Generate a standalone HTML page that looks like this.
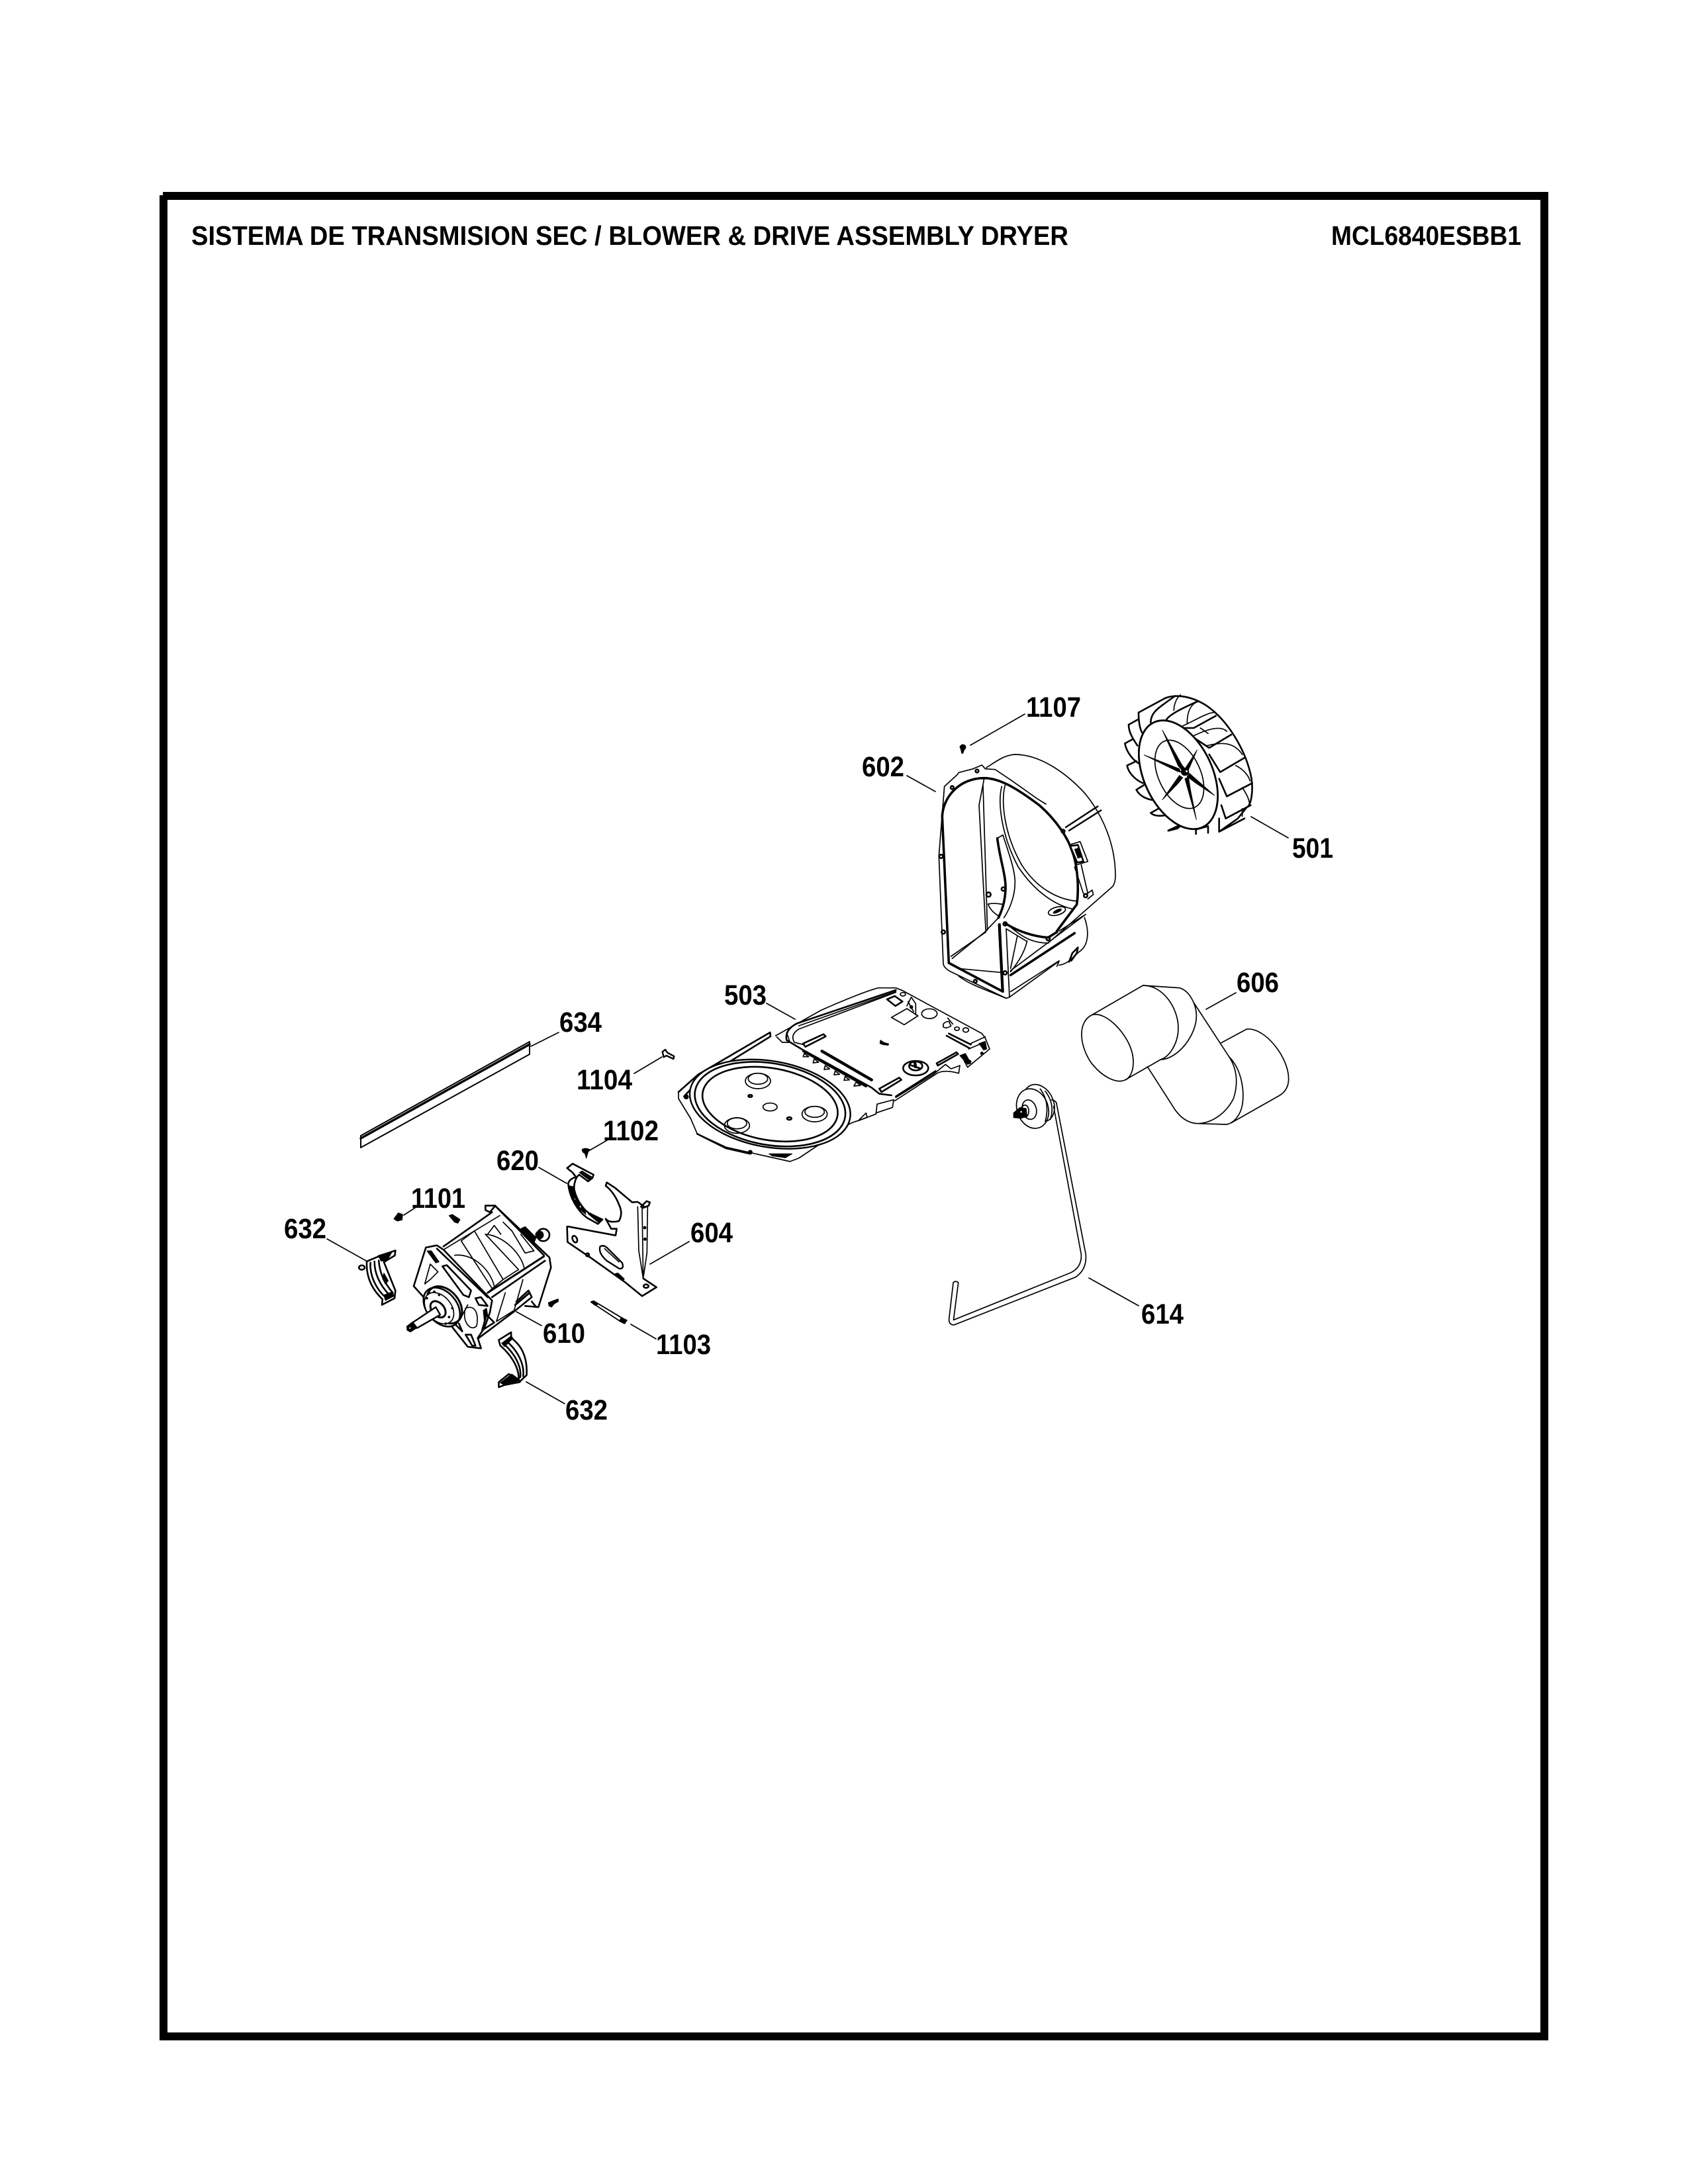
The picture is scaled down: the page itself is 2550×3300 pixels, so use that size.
<!DOCTYPE html>
<html><head><meta charset="utf-8"><style>
html,body{margin:0;padding:0;background:#fff}
svg{display:block}
svg *{vector-effect:non-scaling-stroke}
g.d path,g.d ellipse,g.d circle,g.d polygon,g.d line,g.d polyline{fill:none;stroke:#000;stroke-width:1.7;stroke-linejoin:round;stroke-linecap:round}
g.d .w{fill:#fff}
g.d .k{stroke-width:3.6}
g.d .m{stroke-width:2.6}
g.d .f{fill:#000;stroke-width:1}
text{font-family:"Liberation Sans",Arial,sans-serif;font-weight:bold;font-size:43px;fill:#000}
text.t{font-size:41px}
</style></head><body>
<svg width="2550" height="3300" viewBox="0 0 2550 3300" xmlns="http://www.w3.org/2000/svg">
<rect width="2550" height="3300" fill="#fff"/>
<!-- frame -->
<rect x="246" y="290" width="2093" height="12" fill="#000"/>
<rect x="241" y="295" width="12" height="2788" fill="#000"/>
<rect x="2327" y="290" width="12" height="2793" fill="#000"/>
<rect x="241" y="3071" width="2098" height="12" fill="#000"/>
<text class="t" x="289" y="370" textLength="1325" lengthAdjust="spacingAndGlyphs">SISTEMA DE TRANSMISION SEC / BLOWER &amp; DRIVE ASSEMBLY DRYER</text>
<text class="t" x="2011" y="370" textLength="287" lengthAdjust="spacingAndGlyphs">MCL6840ESBB1</text>

<!-- labels -->
<text x="1550" y="1083" textLength="83" lengthAdjust="spacingAndGlyphs">1107</text>
<text x="1302" y="1173" textLength="64" lengthAdjust="spacingAndGlyphs">602</text>
<text x="1952" y="1296" textLength="62" lengthAdjust="spacingAndGlyphs">501</text>
<text x="1868" y="1499" textLength="64" lengthAdjust="spacingAndGlyphs">606</text>
<text x="1094" y="1518" textLength="64" lengthAdjust="spacingAndGlyphs">503</text>
<text x="845" y="1559" textLength="64" lengthAdjust="spacingAndGlyphs">634</text>
<text x="871" y="1646" textLength="84" lengthAdjust="spacingAndGlyphs">1104</text>
<text x="911" y="1723" textLength="84" lengthAdjust="spacingAndGlyphs">1102</text>
<text x="750" y="1768" textLength="64" lengthAdjust="spacingAndGlyphs">620</text>
<text x="621" y="1825" textLength="82" lengthAdjust="spacingAndGlyphs">1101</text>
<text x="429" y="1871" textLength="64" lengthAdjust="spacingAndGlyphs">632</text>
<text x="1043" y="1877" textLength="64" lengthAdjust="spacingAndGlyphs">604</text>
<text x="820" y="2029" textLength="64" lengthAdjust="spacingAndGlyphs">610</text>
<text x="991" y="2046" textLength="83" lengthAdjust="spacingAndGlyphs">1103</text>
<text x="1724" y="2000" textLength="64" lengthAdjust="spacingAndGlyphs">614</text>
<text x="854" y="2145" textLength="64" lengthAdjust="spacingAndGlyphs">632</text>

<!-- leader lines -->
<g class="d">
<line x1="1466" y1="1126" x2="1548" y2="1079"/>
<line x1="1370" y1="1172" x2="1413" y2="1196"/>
<line x1="1890" y1="1234" x2="1946" y2="1266"/>
<line x1="1822" y1="1525" x2="1867" y2="1500"/>
<line x1="1158" y1="1516" x2="1201" y2="1540"/>
<line x1="802" y1="1581" x2="844" y2="1560"/>
<line x1="958" y1="1622" x2="1000" y2="1597"/>
<line x1="891" y1="1738" x2="917" y2="1723"/>
<line x1="814" y1="1764" x2="856" y2="1788"/>
<line x1="610" y1="1836" x2="627" y2="1825"/>
<line x1="494" y1="1872" x2="553" y2="1905"/>
<line x1="780" y1="1982" x2="818" y2="2003"/>
<line x1="953" y1="2001" x2="991" y2="2023"/>
<line x1="795" y1="2088" x2="853" y2="2121"/>
<line x1="982" y1="1910" x2="1041" y2="1876"/>
<line x1="1645" y1="1931" x2="1720" y2="1973"/>
</g>

<!-- blower housing 602 -->
<g class="d" transform="translate(1370 1110) scale(.33333)">
<path class="f" d="M240 55 Q250 38 265 50 Q270 62 260 68 L254 85 L248 84 L245 68 Z"/>
<path d="M360 150 C400 125 440 92 490 90 C600 90 720 170 810 270 C890 370 945 500 945 640 Q945 680 925 695 L640 945"/>
<path d="M170 235 L228 182 L235 172 L300 155 L340 138 L355 155 L400 158 L470 205 L590 290 L630 315"/>
<path d="M170 235 L145 550 L165 1040 Q170 1060 200 1075 L450 1195 L465 1190 L690 1027 L680 1050"/>
<path d="M235 1095 C280 1130 340 1150 450 1195"/>
<path class="k" d="M190 1035 L160 370 C165 280 240 197 350 197 C430 197 520 260 600 320 C680 390 730 470 750 530 C775 600 780 700 770 770 L680 890"/>
<path class="k" d="M190 1035 L435 1165 L420 860"/>
<path class="k" d="M445 855 C500 890 570 915 640 920 L680 895"/>
<path d="M350 200 L327 320 L358 895 L200 1005"/>
<path d="M345 230 L365 885 L205 1015"/>
<path d="M445 230 C425 300 440 450 520 590 C590 700 690 750 775 755"/>
<path d="M430 235 C410 310 430 460 505 600 C585 720 680 775 750 790"/>
<path d="M410 470 L435 455 C470 560 490 620 490 670 C490 740 460 800 440 830"/>
<path class="k" d="M410 470 C420 560 450 640 447 700 C445 760 430 800 415 830"/>
<path d="M368 768 C400 760 430 770 440 770 M368 768 C375 790 395 810 420 825 M415 830 L358 890"/>
<path d="M415 860 L430 1160 M450 880 L465 1190 M450 880 L540 935 M545 935 C530 1000 490 1050 470 1075 M500 915 L470 1060"/>
<path d="M230 1060 L425 1078"/>
<path d="M445 850 C520 920 570 945 640 945"/>
<path class="k" d="M470 1090 L760 900"/>
<path d="M470 1070 L810 815 M690 890 L810 815"/>
<path d="M805 830 C830 900 820 960 780 985 C750 1010 730 1040 690 1045"/>
<path class="m" d="M775 965 L750 990 L735 1030 M775 965 L770 990 L745 1025"/>
<path d="M470 1165 L690 1025"/>
<path class="k" d="M720 420 L865 325" style="stroke-width:2.4"/>
<path class="k" d="M735 435 L880 343" style="stroke-width:2.4"/>
<path class="w" d="M735 500 L785 485 L820 575 L770 590 Z"/>
<path class="k" d="M740 505 L775 500 L800 575 L772 580 Z" style="stroke-width:2.6"/>
<path class="f" d="M760 520 L775 515 L790 555 L775 560Z"/>
<path d="M790 590 L820 720 M760 600 L800 720"/>
<path d="M810 725 L840 705 L845 725 L820 745"/>
<ellipse cx="680" cy="800" rx="40" ry="18" transform="rotate(-15 680 800)"/>
<ellipse class="f" cx="682" cy="800" rx="20" ry="6" transform="rotate(-25 682 800)"/>
<circle class="m" cx="318" cy="165" r="7"/><circle class="m" cx="205" cy="240" r="7"/><circle class="m" cx="155" cy="552" r="8"/><circle class="m" cx="165" cy="895" r="8"/><circle class="m" cx="370" cy="725" r="10"/><circle class="m" cx="437" cy="700" r="8"/><circle class="m" cx="445" cy="858" r="8"/><circle class="m" cx="640" cy="925" r="8"/><circle class="m" cx="445" cy="1080" r="8"/><circle class="m" cx="310" cy="1118" r="7"/><circle class="m" cx="810" cy="730" r="8"/><circle class="m" cx="708" cy="438" r="7"/>
</g>

<!-- fan 501 -->
<g class="d" transform="translate(1650 1020) scale(.33333)">
<path class="m" d="M330 105 C380 85 450 95 520 140 C620 210 700 350 722 470 C730 530 720 590 700 600 L660 650 L575 710"/>
<path class="m" d="M210 170 L330 105 M210 170 C210 210 215 240 225 260 M165 225 L210 200 M165 225 C165 260 185 290 205 320 M148 310 L185 290 M148 310 C155 350 185 385 210 400 M158 410 L200 390 M158 410 C165 450 205 480 230 490 M200 520 L240 495 M200 520 C215 550 250 565 285 568 M265 625 L310 600 M265 625 C280 640 310 640 335 635"/>
<path class="k" d="M345 705 L410 675 L385 695 Z" style="stroke-width:3"/>
<path class="m" d="M470 720 L470 700 L525 685 L525 715 M410 240 L460 240 L560 185 M470 290 L530 330 L630 270 M530 360 L580 440 L690 375 M575 470 L610 550 L725 490 M585 590 L605 650 L718 590 M575 650 L575 710 L690 650"/>
<path class="m" d="M265 215 C265 170 300 150 340 120 L375 95 M335 205 C345 180 410 150 480 118"/>
<path d="M430 220 C430 160 450 130 480 120 M370 160 C370 130 385 100 400 90 M400 235 C450 215 520 170 550 170 M450 280 C510 250 580 225 610 255 M490 240 L525 265 M520 320 C580 305 640 300 680 360 M650 410 C690 430 710 460 715 480 M680 510 C700 540 715 570 712 590 M680 605 L680 640"/>
<ellipse class="k w" cx="390" cy="452" rx="262" ry="155" transform="rotate(65 390 452)" style="stroke-width:2.8"/>
<ellipse cx="395" cy="450" rx="165" ry="95" transform="rotate(65 395 450)"/>
<polygon class="f" points="318,250 405,405 420,425 408,432 390,412"/>
<polygon class="f" points="475,340 436,430 422,422 440,395"/>
<polygon class="f" points="235,362 395,425 400,440 385,436"/>
<polygon class="f" points="318,565 395,455 410,465 390,490"/>
<polygon class="f" points="553,545 440,445 430,460 470,490"/>
<polygon class="f" points="472,655 420,470 436,462 445,520"/>
<circle class="f" cx="420" cy="438" r="17"/>
<circle cx="428" cy="436" r="7" style="fill:#fff"/>
</g>

<!-- blower duct 606 -->
<g class="d" transform="translate(1590 1400) scale(.33333)">
<path d="M765 527 L880 465 C960 455 1070 590 1070 690 Q1070 740 1030 765 L810 890"/>
<path d="M640 345 L800 590 C840 650 840 720 820 780 C790 840 730 890 660 893 C630 893 590 880 555 830 L430 635"/>
<path d="M800 590 C860 650 870 750 860 810 C850 860 820 890 790 897 L660 893"/>
<path d="M180 400 L410 267 C500 265 570 370 570 460 C570 530 530 590 490 603 L330 695"/>
<path d="M410 267 L575 278 C620 290 650 350 652 400 C655 490 570 600 490 603"/>
<path d="M180 400 C240 385 320 470 350 540 C380 610 365 680 330 695 C290 715 220 680 170 610 C120 530 115 430 180 400 Z"/>
</g>

<!-- base plate 503 -->
<g class="d" transform="translate(1000 1460) scale(.33333)">
<path class="w" d="M2 388 L15 378 L25 392 L55 408 L52 420 L20 405 L8 412 Z" style="stroke-width:2.4"/>
<path class="m" d="M75 570 L165 490 L490 300 L492 318 L165 520 L100 590"/>
<path d="M75 570 L75 600 L130 690 L160 760 L290 820 L580 885 L620 870 L830 730 Q850 710 890 700 L970 670 L975 625 L1050 605 L1045 640 L970 665"/>
<path class="m" d="M160 760 L290 825 L400 850"/>
<path d="M890 700 L925 665 L930 685 L890 700"/>
<path d="M1055 610 L1240 490 Q1270 465 1345 485 L1350 450 L1310 465 L1285 445 L1230 490 L1060 595"/>
<path class="m" d="M1060 590 L1240 475"/>
<path d="M515 315 L560 290 L720 200 Q900 120 980 98 L1060 98 L1090 110 L1450 305 L1465 325 L1485 375 L1385 458 L1360 410"/>
<path d="M1400 350 L1465 320 M1390 375 L1460 345"/>
<path d="M520 320 L545 345 L580 345 L565 300"/>
<path class="m" d="M1060 108 L610 260 Q555 290 565 335 L640 380 L950 550 L985 578 L1040 585"/>
<path d="M1060 118 L620 285 Q580 310 600 345 L640 355"/>
<path d="M1060 115 L620 270"/>
<ellipse class="w" cx="490" cy="625" rx="368" ry="195" transform="rotate(10 490 625)" style="stroke-width:2.4"/>
<ellipse class="m" cx="490" cy="625" rx="345" ry="185" transform="rotate(10 490 625)"/>
<ellipse class="m" cx="490" cy="625" rx="310" ry="163" transform="rotate(10 490 625)"/>
<ellipse cx="435" cy="520" rx="57" ry="35"/><ellipse cx="435" cy="510" rx="44" ry="25"/>
<ellipse cx="692" cy="670" rx="57" ry="35"/><ellipse cx="692" cy="660" rx="44" ry="25"/>
<ellipse cx="340" cy="722" rx="57" ry="35"/><ellipse cx="340" cy="712" rx="44" ry="25"/>
<ellipse cx="490" cy="638" rx="32" ry="18"/>
<ellipse class="m" cx="400" cy="588" rx="9" ry="5"/><ellipse class="m" cx="577" cy="690" rx="10" ry="6"/>
<circle class="f" cx="110" cy="592" r="10"/><circle class="f" cx="400" cy="843" r="9"/>
<path class="f" d="M485 850 L590 850 L560 868 L500 860 Z"/>
<path class="m" d="M640 350 L732 308 L742 318 L650 365 Z"/>
<path class="k" d="M725 385 L950 515" style="stroke-width:4.5"/>
<path class="m" d="M985 555 L1075 505 L1085 515 L995 570 Z"/>
<path class="m" d="M1245 440 L1335 390 L1342 398 L1250 450 Z"/>
<path class="m" d="M1290 315 L1395 372 M1300 305 L1400 355"/>
<path class="k" d="M640 385 L925 545" style="stroke-width:3"/>
<path d="M645 395 L665 410 L640 410 Z M690 420 L710 435 L685 438 Z M740 450 L760 465 L735 468 Z M785 475 L805 490 L780 492 Z M830 500 L850 515 L825 517 Z M880 525 L900 540 L870 543 Z"/>
<ellipse class="m" cx="1150" cy="462" rx="57" ry="33"/><ellipse class="m" cx="1150" cy="452" rx="30" ry="20"/>
<path class="f" d="M1125 445 L1175 462 L1170 466 L1125 450 Z M1140 430 L1150 430 L1155 460 L1145 460 Z"/>
<path class="f" d="M990 335 L1005 345 L1028 352 L1025 358 L1000 355 L988 350 Z"/>
<path class="m" d="M1020 150 L1055 135 L1090 160 L1058 180 Z"/>
<path d="M1040 232 L1110 192 L1160 225 L1098 265 Z"/>
<ellipse cx="1212" cy="215" rx="35" ry="22"/>
<path d="M1110 180 L1130 140 L1150 170 L1150 220 M1115 160 L1140 205"/>
<circle class="f" cx="1130" cy="185" r="7"/>
<ellipse cx="1092" cy="127" rx="12" ry="8"/>
<path d="M1275 262 Q1285 250 1300 250 L1310 270 Q1290 285 1275 275 Z M1295 235 L1318 262"/>
<ellipse cx="1337" cy="283" rx="11" ry="8"/><ellipse cx="1377" cy="289" rx="13" ry="10"/>
<path class="f" d="M1350 405 L1375 395 L1400 440 L1385 445 Z"/>
<path class="f" d="M1437 350 L1465 340 L1472 375 L1458 380 Z"/>
<circle class="f" cx="1450" cy="395" r="6"/><circle class="f" cx="1395" cy="432" r="6"/>
</g>

<!-- strip 634 -->
<g class="d">
<polygon points="545,1716 800,1574 800,1593 545,1734" style="stroke-width:2"/>
<line x1="545" y1="1720" x2="800" y2="1578" style="stroke-width:3.5"/>
</g>

<!-- belt + pulley 614 -->
<g class="d" transform="translate(1380 1560) scale(.3827 .3286)">
<path d="M545 310 Q565 315 565 330 L680 1020 Q685 1090 640 1125 L160 1345 Q140 1345 140 1320 L157 1150 Q165 1140 177 1150 L158 1322 L620 1105 Q665 1080 662 1020 L553 340"/>
<ellipse cx="495" cy="325" rx="58" ry="88" transform="rotate(-18 495 325)"/>
<ellipse class="w" cx="470" cy="350" rx="62" ry="92" transform="rotate(-12 470 350)"/>
<path d="M520 270 Q560 330 540 400 M500 260 Q540 320 520 410"/>
<ellipse cx="457" cy="355" rx="28" ry="45" transform="rotate(-10 457 355)"/>
<ellipse cx="440" cy="362" rx="15" ry="28"/>
<path class="f" d="M395 370 L420 345 L445 350 L448 385 L425 395 L395 392 Z"/>
<circle cx="425" cy="365" r="6" style="fill:#fff"/>
</g>

<!-- motor 610 -->
<g class="d" transform="translate(580 1790) scale(.33333)">
<path class="f" d="M45 155 L65 128 L85 135 L82 160 L60 165 Z"/>
<path class="f" d="M295 140 L310 135 L345 158 L335 175 L320 170 Z"/>
<path class="f" d="M745 535 L770 525 L790 518 L790 530 L772 540 L760 555 L748 550 Z"/>
<path class="m" d="M505 97 L750 330 L757 375 L700 555 L640 550"/>
<path class="m" d="M505 97 L725 320"/>
<path class="m" d="M460 95 L505 95 L480 125 L460 115 Z"/>
<path class="m" d="M270 280 L490 125"/>
<path d="M270 295 L525 140"/>
<path class="k" d="M470 490 L725 325" style="stroke-width:3"/>
<path class="m" d="M490 510 L730 345"/>
<path d="M350 255 L410 210 M350 255 L490 470 M410 210 L540 430 L480 480 M460 225 L610 385 L540 430"/>
<path d="M320 320 C400 310 480 380 500 460 M460 225 C540 230 620 310 635 375"/>
<path d="M470 225 L500 185 L530 225 M540 170 L580 210 L640 310 L680 300 L620 225"/>
<path class="f" d="M640 190 L690 240 L680 265 L620 200 Z"/>
<circle class="m" cx="722" cy="228" r="28" style="fill:#fff"/><circle class="f" cx="705" cy="228" r="18"/>
<!-- front frame -->
<path class="m" d="M190 285 L135 460 L180 510 M190 285 L240 275 L270 295 L490 525 L480 580 L455 650 L425 695 L440 742 L380 735 L305 640"/>
<path class="m" d="M240 290 L470 510"/>
<path class="f" d="M195 300 L215 300 L250 350 L235 355 Z"/>
<path d="M210 360 L185 450 L210 430 L245 395 Z"/>
<path class="m" d="M265 370 L285 365 L395 480 L385 510 L360 500 Z"/>
<path class="m" d="M415 515 L440 510 L470 550 L430 545 Z"/>
<path class="m" d="M370 680 L400 730 L415 730 L395 680 Z"/>
<path class="m" d="M320 630 L355 665 L340 630"/>
<path d="M370 560 C420 540 430 600 420 640 C395 670 350 620 370 560 M380 545 L345 610"/>
<path class="m" d="M445 660 L465 590 L500 625 Z"/>
<path class="f" d="M450 570 L465 560 L470 590 L455 620 Z"/>
<path d="M550 490 L510 620 L590 570 L630 430"/>
<path class="m" d="M430 695 L590 575"/>
<path class="k" d="M595 545 L660 490" style="stroke-width:3"/>
<path class="m" d="M590 575 L670 510 L655 480 L600 530 M670 530 L690 555"/>
<!-- hub -->
<ellipse class="w" cx="262" cy="555" rx="100" ry="68" transform="rotate(50 262 555)" style="stroke-width:2.6"/>
<ellipse class="k" cx="275" cy="545" rx="95" ry="65" transform="rotate(50 275 545)" style="stroke-width:3"/>
<ellipse class="w" cx="250" cy="560" rx="80" ry="55" transform="rotate(50 250 560)"/>
<ellipse class="k" cx="245" cy="565" rx="42" ry="28" transform="rotate(50 245 565)" style="stroke-width:3"/>
<circle class="f" cx="205" cy="490" r="4"/><circle class="f" cx="228" cy="485" r="4"/><circle class="f" cx="195" cy="515" r="4"/><circle class="f" cx="310" cy="560" r="4"/><circle class="f" cx="295" cy="600" r="4"/><circle class="f" cx="250" cy="500" r="4"/><circle class="f" cx="280" cy="630" r="4"/>
<!-- shaft -->
<path class="w" d="M130 625 L235 555 L255 590 L150 650 Z" style="stroke-width:2.4"/>
<path class="f" d="M103 642 L130 622 L148 650 L120 668 L105 660 Z"/>
<circle cx="118" cy="650" r="6" style="fill:#fff"/>
</g>

<!-- clips 632 and small parts in crop 3 coords -->
<g class="d" transform="translate(400 1650) scale(.4337 .3316)">
<!-- 632 left -->
<path class="w m" d="M355 772 L395 750 L455 722 L453 745 L415 775 L455 905 L452 940 L408 970 L410 945 C375 900 355 850 355 785 Z"/>
<path class="m" d="M368 778 C365 840 390 900 420 935"/>
<path class="m" d="M382 772 C382 835 405 885 434 925"/>
<path class="m" d="M397 768 C400 830 420 875 446 915"/>
<path class="f" d="M395 745 L445 725 L425 770 L405 770 Z"/>
<path class="f" d="M415 825 L430 860 L420 875 L410 850 Z"/>
<path class="f" d="M415 925 L445 910 L450 930 L420 950 Z"/>
<circle class="m" cx="338" cy="800" r="10" />
<!-- 632 bottom -->
<path class="w m" d="M858 1095 L815 1130 L820 1155 C855 1195 885 1250 885 1310 L888 1322 L835 1335 L815 1345 L815 1322 L850 1285 L888 1320 L912 1290 C915 1220 900 1160 858 1120 Z"/>
<path class="m" d="M830 1145 C870 1190 895 1250 890 1300"/>
<path class="m" d="M842 1135 C882 1180 905 1240 900 1295"/>
<path class="f" d="M820 1325 L860 1285 L882 1305 L878 1325 L835 1335 Z"/>
<path class="f" d="M825 1145 L858 1112 L865 1122 L835 1160 Z"/>
<!-- screw 1102 -->
<path class="f" d="M1105 262 Q1115 252 1132 262 L1125 278 L1120 302 L1115 280 Q1105 275 1105 262 Z"/>
<!-- screw 1103 -->
<path class="w" d="M1137 958 L1145 952 L1245 1030 L1260 1040 L1253 1055 L1238 1045 Z" style="stroke-width:1.8"/>
<path class="f" d="M1135 956 L1145 952 L1160 968 L1150 972 Z M1240 1030 L1262 1040 L1254 1055 L1236 1042 Z"/>
</g>

<!-- bracket 604 + clip 620 -->
<g class="d" transform="translate(820 1660) scale(.33333)">
<!-- 620 -->
<path class="w m" d="M135 335 L110 315 L135 295 L230 345 L225 360 L205 375 L165 345 C150 355 140 385 142 410 C150 450 175 495 210 520 L270 548 L250 568 L200 540 C160 510 120 450 115 385 C118 370 135 360 150 355 Z"/>
<path class="f" d="M165 335 L178 328 L222 355 L208 368 Z"/>
<path class="f" d="M120 395 L140 400 L150 445 L190 500 L195 525 L160 495 L130 445 Z"/>
<circle cx="145" cy="455" r="5" style="fill:#fff"/><circle cx="170" cy="490" r="6" style="fill:#fff"/>
<path class="f" d="M205 522 L215 518 L262 550 L250 560 Z"/>
<path class="m" d="M115 580 L330 620 L335 590 L310 590 L285 545 Q300 565 345 555 Q365 520 345 480 C330 440 305 410 285 395 L290 380 L328 405 L405 470 L430 468 L460 490"/>
<path class="m" d="M110 580 L112 650 L200 710 L215 720 L370 830 L450 895 L515 855 L455 815"/>
<path d="M430 490 L435 690 L455 815 M475 490 L472 700 L455 815 M450 490 L455 815"/>
<path class="m" d="M445 490 L470 465 L485 470 L480 485 L455 495 Z"/>
<path class="k" d="M260 670 Q280 660 300 685 L360 745 Q370 775 345 770 L290 735 Q250 700 260 670 Z" style="stroke-width:2.4"/>
<path d="M280 680 L345 740"/>
<ellipse class="m" cx="145" cy="637" rx="10" ry="16" transform="rotate(-25 145 637)"/>
<circle class="f" cx="462" cy="585" r="6"/><circle class="f" cx="463" cy="637" r="6"/>
<ellipse class="m" cx="468" cy="850" rx="11" ry="8"/>
<circle class="m" cx="203" cy="708" r="7"/>
<path class="f" d="M325 795 L340 790 L370 818 L358 825 Z"/>
</g>
</svg>
</body></html>
